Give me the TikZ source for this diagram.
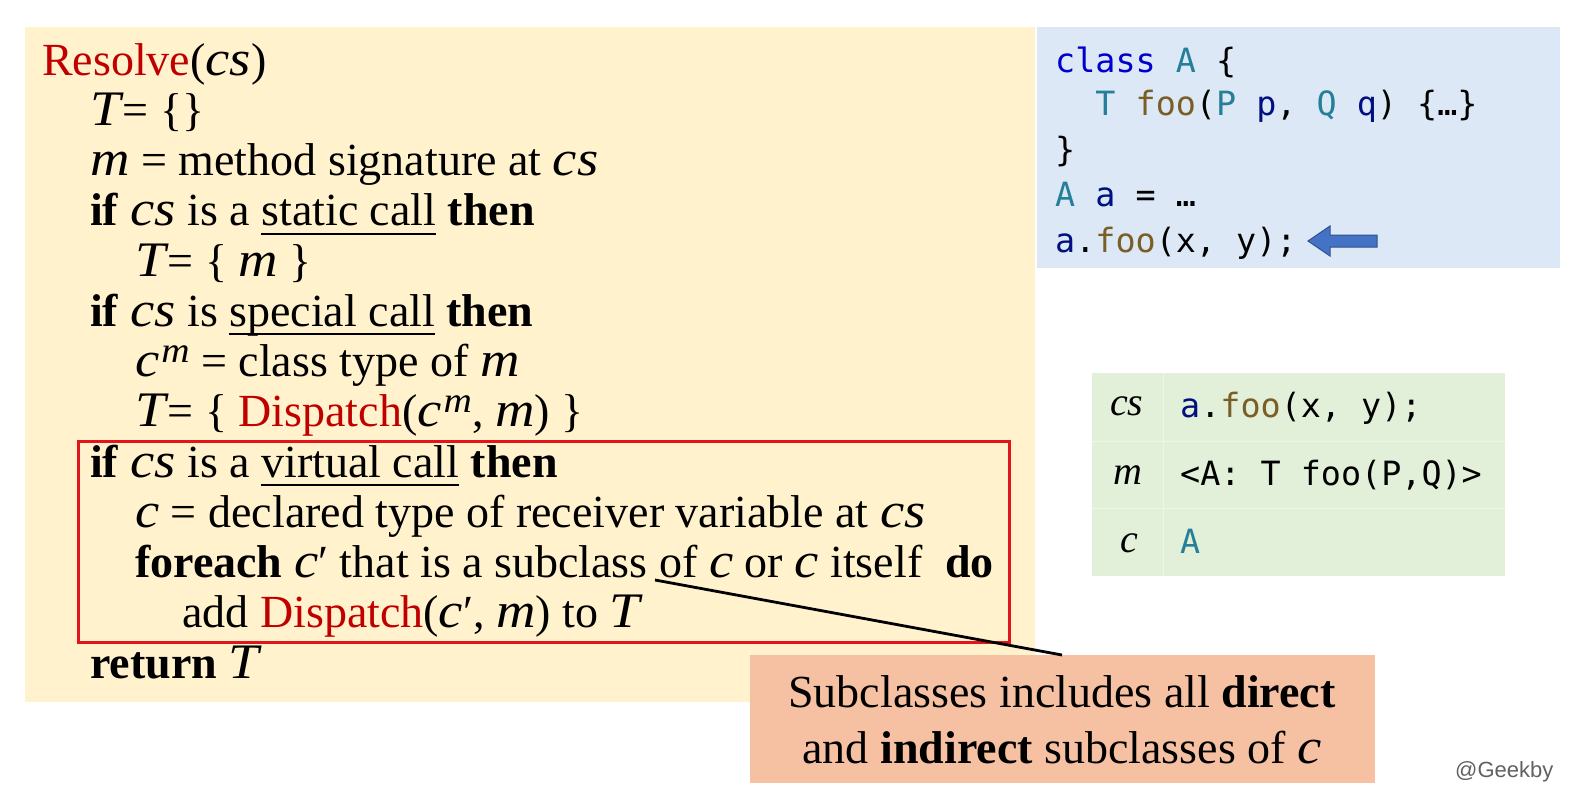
\documentclass[tikz,border=0pt]{standalone}
\usepackage{fontspec}
\setmainfont{Liberation Serif}
\newfontfamily\mifont{Liberation Serif}[Scale=1.08,FakeStretch=1.1]
\newfontfamily\codefont{DejaVu Sans Mono}
\newfontfamily\wmfont{Liberation Sans}
\definecolor{bgyellow}{RGB}{255,242,204}
\definecolor{bgblue}{RGB}{220,232,245}
\definecolor{bggreen}{RGB}{226,240,217}
\definecolor{bgsalmon}{RGB}{245,193,162}
\definecolor{resred}{RGB}{192,0,0}
\definecolor{boxred}{RGB}{228,20,28}
\definecolor{kwblue}{RGB}{0,0,205}
\definecolor{typ}{RGB}{38,127,153}
\definecolor{fn}{RGB}{121,94,38}
\definecolor{var}{RGB}{0,16,128}
\definecolor{arrfill}{RGB}{68,114,196}
\definecolor{arrline}{RGB}{47,82,143}
\newlength\ulwd
\newcommand\myul[1]{\settowidth{\ulwd}{#1}\rlap{\rule[-9pt]{\ulwd}{1.8pt}}#1}
\newcommand\mi[1]{{\mifont\itshape #1}}
\newcommand\kw[1]{\textbf{#1}}
\newcommand\sups[1]{\kern2pt\smash{\raisebox{14pt}{\fontsize{33}{33}\selectfont\mifont\itshape #1}}}
\newcommand\rd[1]{{\color{resred}#1}}
\begin{document}
\begin{tikzpicture}[x=1pt,y=-1pt,
  algline/.style={anchor=base west,inner sep=0pt,font=\fontsize{46}{50}\selectfont},
  codeline/.style={anchor=base west,inner sep=0pt,font=\codefont\fontsize{33.4}{40}\selectfont},
  tabvar/.style={anchor=base west,inner sep=0pt,font=\fontsize{40}{44}\selectfont\itshape},
  calltext/.style={anchor=base,inner sep=0pt,font=\fontsize{46}{50}\selectfont}]
\useasboundingbox (0,0) rectangle (1570,792);
\fill[white] (0,0) rectangle (1570,792);
% panels
\fill[bgyellow] (25,27) rectangle (1035,702);
\fill[bgblue] (1037,27) rectangle (1560,268);
\fill[bggreen] (1092,373) rectangle (1505,576);
\draw[white!40!bggreen,line width=0.8pt] (1092,441) -- (1505,441) (1092,508) -- (1505,508) (1163,373) -- (1163,576);
% algorithm
\node[algline] (l1) at (42,75) {\rd{Resolve}(\mi{cs})};
\node[algline] (l2) at (90,125.25) {\mi{T}\kern2pt= \{\}};
\node[algline] (l3) at (90,175.5) {\mi{m} = method signature at \mi{cs}};
\node[algline] (l4) at (90,225.75) {\kw{if} \mi{cs} is a \myul{static call} \kw{then}};
\node[algline] (l5) at (135,276) {\mi{T}\kern2pt= \{ \mi{m} \}};
\node[algline] (l6) at (90,326.25) {\kw{if} \mi{cs} is \myul{special call} \kw{then}};
\node[algline] (l7) at (135,376.5) {\mi{c}\sups{m} = class type of \mi{m}};
\node[algline] (l8) at (135,426.75) {\mi{T}\kern2pt= \{ \rd{Dispatch}(\mi{c}\sups{m}, \mi{m}) \}};
\node[algline] (l9) at (90,477) {\kw{if} \mi{cs} is a \myul{virtual call} \kw{then}};
\node[algline] (l10) at (135,527.25) {\mi{c} = declared type of receiver variable at \mi{cs}};
\node[algline] (l11) at (135,577.5) {\kw{foreach} \mi{c}′ that is a subclass of \mi{c} or \mi{c} itself\ \ \kw{do}};
\node[algline] (l12) at (182,627.75) {add \rd{Dispatch}(\mi{c}′, \mi{m}) to \mi{T}};
\node[algline] (l13) at (90,678) {\kw{return} \mi{T}};
\node[draw=boxred,line width=3pt,inner sep=0pt,minimum width=931pt,minimum height=201pt,anchor=north west] (redbox) at (77,440) {};
% code
\node[codeline] (c1) at (1055,72) {{\color{kwblue}class} {\color{typ}A} \{};
\node[codeline] (c2) at (1055,115) {\hphantom{xx}{\color{typ}T} {\color{fn}foo}({\color{typ}P} {\color{var}p}, {\color{typ}Q} {\color{var}q}) \{…\}};
\node[codeline] (c3) at (1055,161) {\}};
\node[codeline] (c4) at (1055,206) {{\color{typ}A} {\color{var}a} = …};
\node[codeline] (c5) at (1055,252) {{\color{var}a}.{\color{fn}foo}(x, y);};
\filldraw[fill=arrfill,draw=arrline,line width=1pt] (1308,241) -- (1330,226) -- (1330,235) -- (1377,235) -- (1377,247) -- (1330,247) -- (1330,256) -- cycle;
% table
\node[tabvar] (tcs) at (1110,415) {cs};
\node[codeline] (tcsv) at (1180,417) {{\color{var}a}.{\color{fn}foo}(x, y);};
\node[tabvar] (tm) at (1113,484) {m};
\node[codeline] (tmv) at (1180,485) {<A: T foo(P,Q)>};
\node[tabvar] (tc) at (1120,552) {c};
\node[codeline] (tcv) at (1180,553) {{\color{typ}A}};
% callout
\node[fill=bgsalmon,inner sep=0pt,minimum width=625pt,minimum height=128pt,anchor=north west] (call) at (750,655) {};
\node[calltext] (ct1) at (1062,707) {Subclasses includes all \kw{direct}};
\node[calltext] (ct2) at (1062,763) {and \kw{indirect} subclasses of \mi{c}};
\coordinate (lstart) at (655,580);
\draw[line width=2.8pt] (lstart) -- (call.north -| 1062,0);
% watermark
\node[anchor=base west,inner sep=0pt,font=\wmfont\fontsize{22}{24}\selectfont,text=black!62] (wm) at (1455,777) {@Geekby};
\end{tikzpicture}
\end{document}
